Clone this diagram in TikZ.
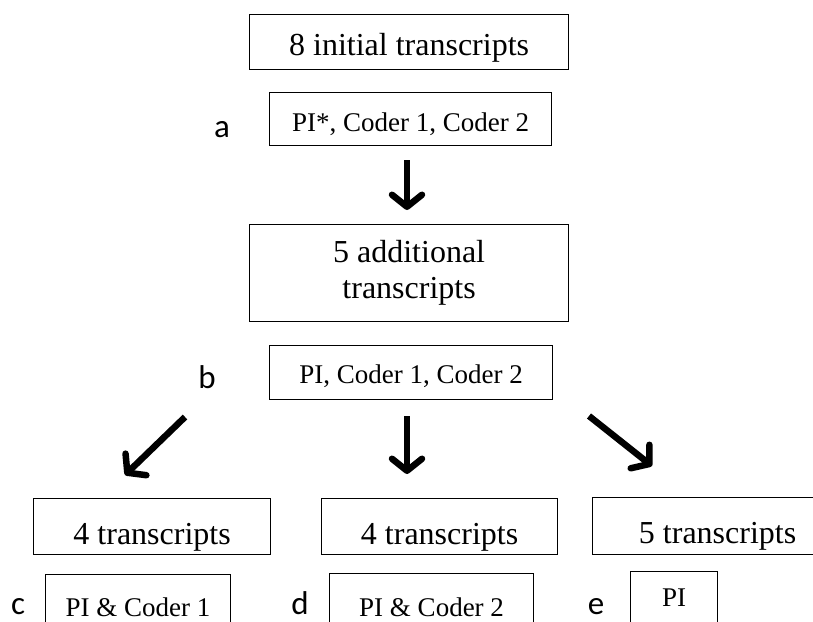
\documentclass[tikz,border=0pt]{standalone}
\usepackage{fontspec}
\setmainfont{Liberation Serif}
\newfontfamily\labfont{Carlito}
\usetikzlibrary{arrows.meta}
\tikzset{
  bigtxt/.style={font=\fontsize{32}{36}\selectfont},
  midtxt/.style={font=\fontsize{27}{32}\selectfont},
  boxnode/.style={draw=black, line width=1.2pt, inner sep=0pt, anchor=north west, align=center},
  lettr/.style={font=\labfont\fontsize{33}{36}\selectfont, anchor=base, inner sep=0pt},
  flowarrow/.style={line width=6.5pt, -{Straight Barb[length=12pt,width=30pt,round]}},
}
\begin{document}
\begin{tikzpicture}[x=1pt,y=-1pt]
\useasboundingbox (0,0) rectangle (813,621);
% boxes
\node[boxnode,bigtxt,minimum width=319pt,text height=41pt,text depth=14pt] (b1) at (249,14) {8 initial transcripts};
\node[boxnode,midtxt,minimum width=282pt,text height=39pt,text depth=14pt] (b2) at (269,92) {PI*, Coder 1, Coder 2};
\node[boxnode,bigtxt,minimum width=319pt,minimum height=97pt] (b3) at (249,224) {5 additional\\transcripts};
\node[boxnode,midtxt,minimum width=283pt,text height=38pt,text depth=16pt] (b4) at (269,345) {PI, Coder 1, Coder 2};
\node[boxnode,bigtxt,minimum width=237pt,text height=46pt,text depth=10pt] (b5) at (33,498) {4 transcripts};
\node[boxnode,bigtxt,minimum width=236pt,text height=46pt,text depth=10pt] (b6) at (321,498) {4 transcripts};
\node[boxnode,bigtxt,minimum width=250pt,text height=46pt,text depth=11pt] (b7) at (592,497) {5 transcripts};
\node[boxnode,midtxt,minimum width=185pt,text height=42pt,text depth=56pt] (b8) at (45,574) {PI \& Coder 1};
\node[boxnode,midtxt,minimum width=204pt,text height=43pt,text depth=56pt] (b9) at (329,573) {PI \& Coder 2};
\node[boxnode,midtxt,minimum width=87pt,text height=35pt,text depth=62pt] (b10) at (630,571) {PI};
% letters
\node[lettr] (la) at (222,137) {a};
\node[lettr] (lb) at (207,388) {b};
\node[lettr] (lc) at (18,614) {c};
\node[lettr] (ld) at (300,614) {d};
\node[lettr] (le) at (596,614) {e};
% arrow ends
\coordinate (a1s) at (407,160);
\coordinate (a1e) at (407,210);
\coordinate (a2s) at (185,417);
\coordinate (a2e) at (125,475);
\coordinate (a3s) at (407,416);
\coordinate (a3e) at (407,474);
\coordinate (a4s) at (589,416);
\coordinate (a4e) at (652,466);
\draw[flowarrow] (a1s) -- (a1e);
\draw[flowarrow] (a2s) -- (a2e);
\draw[flowarrow] (a3s) -- (a3e);
\draw[flowarrow] (a4s) -- (a4e);
\end{tikzpicture}
\end{document}
